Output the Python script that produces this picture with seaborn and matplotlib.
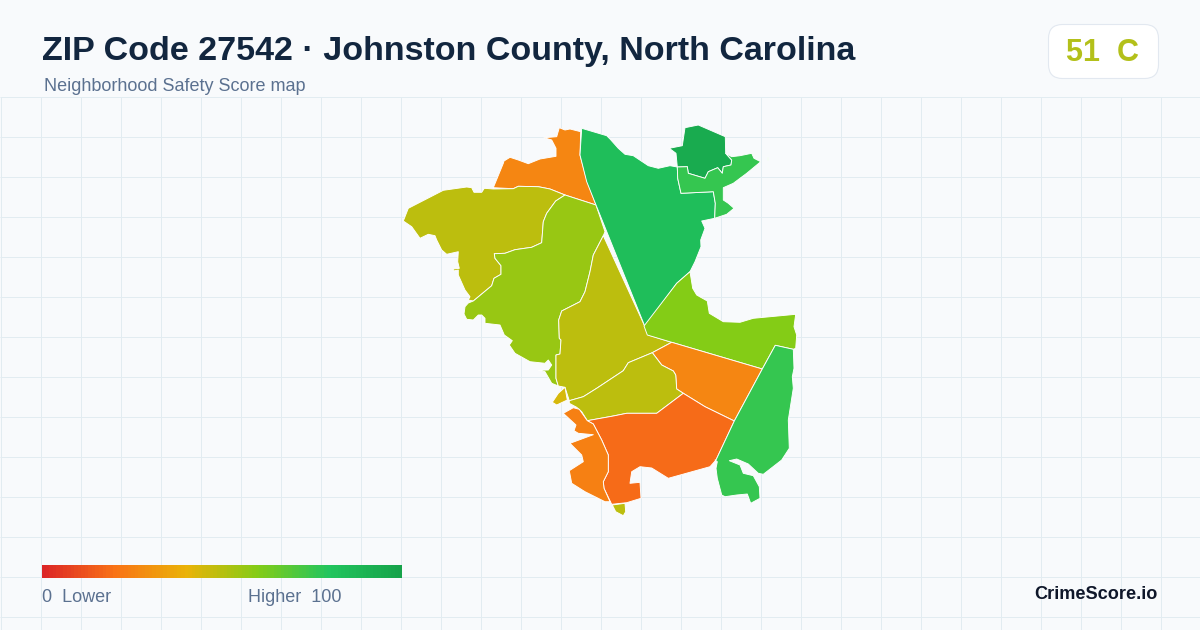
import numpy as np
import matplotlib
matplotlib.use("Agg")
import matplotlib.pyplot as plt
from matplotlib.patches import Polygon, FancyBboxPatch
import seaborn as sns

# ---- data -------------------------------------------------------------
TITLE = "ZIP Code 27542 · Johnston County, North Carolina"
SUBTITLE = "Neighborhood Safety Score map"
BADGE = "51  C"
BRAND = "CrimeScore.io"
SCALE_COLORS = ["#dc2626", "#f97316", "#eab308", "#84cc16", "#22c55e", "#16a34a"]
SCALE_VALUES = list(range(0, 101))

north_orange = [(493.3,187.7),(503.3,163.3),(504,161),(510,157.3),(518.3,160),(528.3,163.7),(540,159),(556,156.3),(556,148.3),(551.7,140),(544,137.7),(556.7,136.7),(559.3,127.7),(565,130),(570,129),(580.7,131.7),(580,155),(586.7,180),(596,205),(565,195),(550,189),(538.3,186.7),(518.3,186.3),(513.3,188.7)]
west_olive = [(403.3,221),(408.3,208.3),(443.3,190.3),(466.7,187),(471.7,187.7),(474,192.3),(481.7,192.3),(484.3,188.3),(493.3,189),(513.3,188.7),(518.3,186.3),(538.3,186.7),(550,189),(565,195),(555.7,201),(546.7,213.3),(543.3,221.7),(541.7,242.7),(531.7,247.3),(515,249.7),(505,253.3),(494.3,253.7),(495,258.3),(501,265.7),(501,274.3),(494,278.3),(491.7,285.7),(473.3,301),(468.3,300),(470,296.7),(465,290),(458.3,275),(458.3,270),(453.3,271),(453.3,269),(459.3,268.3),(457.7,261.7),(458.3,251.7),(446.7,254.3),(441.7,250),(436.7,240),(435,235.7),(428.3,234.3),(420,238.3),(411.7,226.7)]
west_lime = [(565,195),(596,205),(605,231.7),(603.3,235.7),(593.3,255),(590,271.7),(585,291.7),(580,301.7),(561.7,311),(558.7,320),(559.3,338.3),(561,340),(560,354),(556,355),(556,378.3),(558.3,386),(551.7,383.3),(545,371.7),(538.3,370.3),(548.3,370),(551.7,365),(548.3,360),(545,363.3),(530,361.7),(515,353.3),(509.3,345),(512.3,340.7),(504.3,335),(500,325),(485,323.3),(485,318.3),(481.7,315),(478.3,315),(473.3,320),(466.7,319.3),(464,314),(465,306.7),(468.3,303),(473.3,301),(491.7,285.7),(494,278.3),(501,274.3),(501,265.7),(495,258.3),(494.3,253.7),(505,253.3),(515,249.7),(531.7,247.3),(541.7,242.7),(543.3,221.7),(546.7,213.3),(555.7,201)]
central_olive = [(603.3,235.7),(645,326.7),(648.3,335),(671.7,342.3),(652.3,352.7),(628.3,362.7),(623.3,370.7),(596.7,388.3),(583.3,396.7),(569.3,400.7),(565,387.3),(558.3,386),(556,378.3),(556,355),(560,354),(561,340),(559.3,338.3),(558.7,320),(561.7,311),(580,301.7),(585,291.7),(590,271.7),(593.3,255)]
north_green = [(581.7,128.3),(606.7,135.7),(610,139),(618.3,148.3),(625,154.3),(633.3,155.7),(648.3,165.7),(658.3,168.3),(670,165.7),(677.3,167),(677.7,178.3),(681,193.3),(713.3,191.7),(715.3,203.3),(714.7,218.3),(701.7,221),(705,228.3),(700.7,240),(701,246.7),(695,261.7),(690,271.7),(676.7,283.3),(645,326.7),(596.7,206.7),(586.7,181.7),(580,155)]
north_dark = [(669.3,148.3),(682.3,145.7),(685,127.7),(698.3,125),(725.3,136.7),(725.7,153.3),(731.7,160),(731,165),(723.3,166.7),(722.3,173.3),(717.7,167.7),(708.3,171.7),(705,178.3),(688.3,173.3),(687.3,166.7),(677.3,167),(676,153.3)]
northeast_green = [(677.3,167),(687.3,166.7),(688.3,173.3),(705,178.3),(708.3,171.7),(717.7,167.7),(722.3,173.3),(723.3,166.7),(731,165),(731.7,160),(725.7,153.3),(731.7,156.7),(740,155.7),(751.7,153.3),(754,158.3),(760.7,161.7),(746.7,173.3),(733.3,183.3),(723.3,187.7),(723.3,200),(728.3,203.3),(734,208.3),(726.7,214.3),(714.7,218.3),(715.3,203.3),(713.3,191.7),(681,193.3),(677.7,178.3)]
east_lime = [(690,271.7),(692.7,288.3),(696.7,295),(707.3,301),(709.3,313.3),(723.3,321.7),(740,322.3),(753.3,318.3),(795.7,314.3),(794,326.7),(796.7,335),(795.7,348.3),(793.3,349.3),(775.3,345.3),(762.3,369),(671.7,342.3),(647.3,335),(644,326),(676.7,283.3)]
mid_orange = [(671.7,342.3),(762.3,369),(734.3,421),(705,406.7),(683.3,393.3),(676.7,389),(675.7,375),(673.3,371),(661.7,365),(652.3,352.7)]
south_olive = [(652.3,352.7),(661.7,365),(673.3,371),(675.7,375),(676.7,389),(683.3,393.3),(656.7,413.3),(626.7,413.3),(613.3,416),(587.3,420.7),(581.7,411.7),(576.7,407.3),(569.3,403.3),(569.3,400.7),(583.3,396.7),(596.7,388.3),(623.3,370.7),(628.3,362.7)]
south_red = [(683.3,393.3),(705,406.7),(734.3,421),(716,460),(710,466.7),(668.3,478.3),(651.7,468),(640,466.7),(631.7,471.7),(630,483.3),(640,482.3),(641,498.3),(626.7,502.7),(611.7,504.3),(604,488.3),(603.3,481.7),(608.3,471.7),(608.3,455),(601.7,440),(593.3,424),(587.3,420.7),(613.3,416),(626.7,413.3),(656.7,413.3)]
southwest_orange = [(563.3,413.3),(573.3,407.7),(579.3,409.3),(587.3,420.7),(593.3,424),(601.7,440),(608.3,455),(608.3,471.7),(603.3,481.7),(604,488.3),(610,501.7),(605,501.7),(585,491.7),(571.7,483.3),(569.3,470.7),(583.3,461.7),(581.7,455),(570,443.3),(593.3,434.7),(578.3,433.3),(574,430.7),(576,425)]
river_sliver = [(565,387.3),(567.3,400),(556.7,405),(552.3,402.3),(558.3,393.3)]
south_tip = [(612.3,505),(625,503.3),(625.7,511.7),(623.3,515.7),(615.7,511.7)]
southeast_green = [(775.3,345.3),(793.3,349.3),(794,368.3),(792.3,376.7),(793.3,388.3),(788.3,420),(789.3,448.3),(781.7,460),(763.3,474.3),(758.3,473.3),(748.3,464),(736.7,459),(729.3,460.7),(740,465),(743.3,473.3),(753.3,475.7),(759.3,486.7),(760,498.3),(750.7,503.3),(747.3,494),(736.7,495),(725,496.7),(721.7,495),(717.3,478.3),(716,468.3),(717.3,461.7),(715,460),(716,460),(734.3,421),(762.3,369)]
islet = [(766.5,157),(768,157),(768,160),(766.5,160)]

region_shapes = [north_orange, west_olive, west_lime, central_olive, north_green, north_dark,
                 northeast_green, east_lime, mid_orange, south_olive, south_red,
                 southwest_orange, river_sliver, south_tip, southeast_green, islet]
region_scores = [26, 49, 56, 49, 84, 95, 76, 60, 26, 49, 18, 24, 44, 49, 76, 76]

# ---- drawing ----------------------------------------------------------
BG = "#f8fafc"
GRID = "#e2ecf1"
sns.set_theme(style="white", rc={"figure.facecolor": BG, "axes.facecolor": BG})
plt.rcParams["font.family"] = ["Liberation Sans", "DejaVu Sans"]
cmap = sns.blend_palette(SCALE_COLORS, as_cmap=True)

fig = plt.figure(figsize=(12, 6.3), dpi=100, facecolor=BG)
ax = fig.add_axes([0, 0, 1, 1])
ax.set_xlim(0, 1200)
ax.set_ylim(630, 0)
ax.axis("off")

ax.vlines(np.arange(0.5, 1200, 40), 97, 630, color=GRID, lw=0.72, zorder=1)
ax.hlines(np.arange(96.5, 630, 40), 0, 1200, color=GRID, lw=0.72, zorder=1)

for shape, score in zip(region_shapes, region_scores):
    ax.add_patch(Polygon(shape, closed=True, facecolor=cmap(score / 100),
                         edgecolor="white", lw=0.65, joinstyle="round", zorder=2))

ax.text(42, 60, TITLE, fontsize=24.45, fontweight="bold", color="#12263f", ha="left", va="baseline", zorder=5)
ax.text(44, 91, SUBTITLE, fontsize=12.95, color="#5b7190", ha="left", va="baseline", zorder=5)

ax.add_patch(FancyBboxPatch((1048.5, 24.5), 110, 54, boxstyle="round,pad=0,rounding_size=14",
                            facecolor="white", edgecolor="#e2e8f0", lw=0.8, zorder=4))
ax.text(1103, 61, BADGE, fontsize=22, fontweight="bold", color="#b3c01a", ha="center", va="baseline", zorder=5)

# colour scale drawn as a one-row heatmap
cax = fig.add_axes([42 / 1200, 1 - 578 / 630, 360 / 1200, 13 / 630])
sns.heatmap(np.array(SCALE_VALUES)[None, :], ax=cax, cmap=cmap, vmin=0, vmax=100,
            cbar=False, xticklabels=False, yticklabels=False, rasterized=True)
cax.set_xlabel("")
cax.set_ylabel("")

ax.text(42, 602, "0  Lower", fontsize=12.95, color="#5b7190", ha="left", va="baseline", zorder=5)
ax.text(342, 602, "Higher  100", fontsize=12.95, color="#5b7190", ha="right", va="baseline", zorder=5)
ax.text(1158, 599, BRAND, fontsize=13.1, fontweight="bold", color="#0f172a", ha="right", va="baseline", zorder=5)

fig.savefig("out.png", dpi=100, facecolor=BG)
